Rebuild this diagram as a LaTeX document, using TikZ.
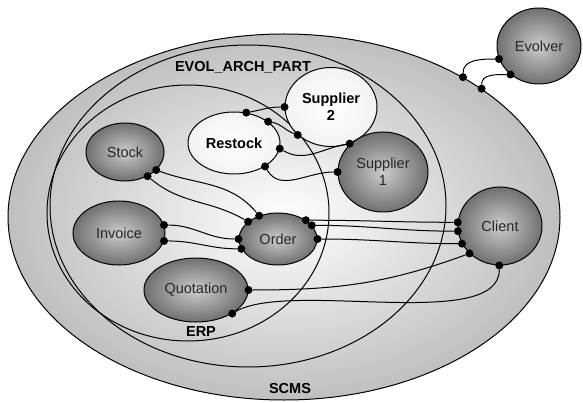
\documentclass[tikz,border=0pt]{standalone}
\usepackage{fontspec}
\setmainfont{Liberation Sans}
\usetikzlibrary{shapes.geometric}
\begin{document}
\begin{tikzpicture}[x=1pt,y=-1pt,
  comp/.style={ellipse, draw, line width=1pt, inner sep=0pt, inner color=black!20, outer color=black!56, text=black!85, font=\fontsize{14.5}{17}\selectfont, align=center},
  light/.style={comp, inner color=white, outer color=black!5, text=black, font=\fontsize{14.5}{17}\selectfont\bfseries},
  zone/.style={ellipse, draw, line width=1pt, inner sep=0pt},
  port/.style={circle, fill=black, inner sep=0pt, minimum size=8pt},
  wire/.style={line width=1pt},
  tag/.style={font=\fontsize{14.5}{17}\selectfont\bfseries}]
  \useasboundingbox (0,0) rectangle (583,403);
  % ZONES: SCMS, EVOL_ARCH_PART, ERP
  \node[zone, minimum width=552pt, minimum height=366pt, inner color=white, outer color=black!25] (scms) at (284,217) {};
  \node[zone, minimum width=396pt, minimum height=322pt] (evol) at (248,206) {};
  \node[zone, minimum width=282pt, minimum height=256pt] (erp) at (188,213) {};
  \node[tag] (evoltag) at (243,67) {EVOL\_ARCH\_PART};
  \node[tag] (erptag) at (201,332) {ERP};
  \node[tag] (scmstag) at (290,389) {SCMS};
  % COMPONENTS
  \node[comp, minimum width=78pt, minimum height=58pt] (stock) at (125,152) {Stock};
  \node[comp, minimum width=92pt, minimum height=64pt] (invoice) at (119,233) {Invoice};
  \node[comp, minimum width=78pt, minimum height=52pt] (order) at (278,239) {Order};
  \node[comp, minimum width=104pt, minimum height=64pt] (quotation) at (196,290) {Quotation};
  \node[light, minimum width=92pt, minimum height=62pt] (restock) at (234,143) {Restock};
  \node[light, minimum width=92pt, minimum height=79pt, text depth=1pt] (supplier2) at (331,107) {Supplier\\2};
  \node[comp, minimum width=90pt, minimum height=80pt, text depth=1pt] (supplier1) at (383,172) {Supplier\\1};
  \node[comp, minimum width=84pt, minimum height=78pt] (client) at (500,226) {Client};
  \node[comp, minimum width=84pt, minimum height=76pt] (evolver) at (539,46) {Evolver};
  % PORTS
  \node[port] (st1) at (stock.-30) {};
  \node[port] (st2) at (stock.-47) {};
  \node[port] (in1) at (invoice.10) {};
  \node[port] (in2) at (invoice.-10) {};
  \node[port] (or1) at (order.129) {};
  \node[port] (or2) at (order.150) {};
  \node[port] (or3) at (order.180) {};
  \node[port] (or4) at (order.195) {};
  \node[port] (or5) at (order.34) {};
  \node[port] (or6) at (order.22) {};
  \node[port] (or7) at (order.0) {};
  \node[port] (qu1) at (quotation.0) {};
  \node[port] (qu2) at (quotation.-33) {};
  \node[port] (cl1) at (client.175) {};
  \node[port] (cl2) at (client.-173) {};
  \node[port] (cl3) at (client.-155) {};
  \node[port] (cl4) at (client.-138) {};
  \node[port] (cl5) at (client.-91) {};
  \node[port] (re1) at (restock.68) {};
  \node[port] (re2) at (restock.32) {};
  \node[port] (re3) at (restock.-7) {};
  \node[port] (re4) at (restock.-37) {};
  \node[port] (su1) at (supplier2.180) {};
  \node[port] (su2) at (supplier2.-140) {};
  \node[port] (su3) at (supplier2.-63) {};
  \node[port] (su4) at (supplier1.180) {};
  \node[port] (ev1) at (evolver.198) {};
  \node[port] (ev2) at (evolver.-135) {};
  \node[port] (sc1) at (scms.38) {};
  \node[port] (sc2) at (scms.33.5) {};
  % CONNECTORS
  \draw[wire] (st1) to[out=-20,in=130] (or1);
  \draw[wire] (st2) to[out=-40,in=150] (or2);
  \draw[wire] (in1) to[out=0,in=180] (or3);
  \draw[wire] (in2) to[out=0,in=180] (or4);
  \draw[wire] (or5) to[out=0,in=180] (cl1);
  \draw[wire] (or6) to[out=0,in=180] (cl2);
  \draw[wire] (or7) to[out=0,in=180] (cl3);
  \draw[wire] (qu1) to[out=0,in=200] (cl4);
  \draw[wire] (qu2) to[out=30,in=-90,looseness=0.6] (cl5);
  \draw[wire] (re1) to[out=10,in=180] (su1);
  \draw[wire] (re2) to[out=-10,in=160] (su2);
  \draw[wire] (re3) to[out=-30,in=190] (su3);
  \draw[wire] (re4) to[out=-60,in=180] (su4);
  \draw[wire] (ev1) to[out=180,in=90] (sc1);
  \draw[wire] (ev2) to[out=180,in=90] (sc2);
\end{tikzpicture}
\end{document}
